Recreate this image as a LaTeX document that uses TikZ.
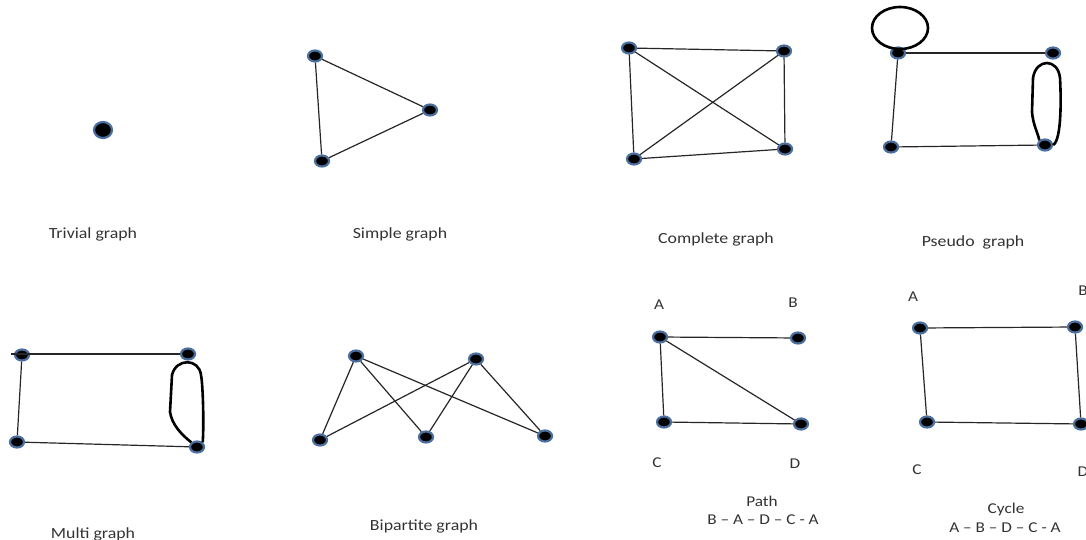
\documentclass[tikz,border=0pt]{standalone}
\usepackage{fontspec}
\setmainfont{Carlito}[FakeStretch=1.15]
\usetikzlibrary{shapes.geometric}
\definecolor{glow}{HTML}{4A6E9E}
\tikzset{
  vtx/.style={ellipse, fill=black, draw=glow, line width=2.2pt, minimum width=14pt, minimum height=11pt, inner sep=0pt},
  bigvtx/.style={vtx, minimum width=18pt, minimum height=16pt},
  edge/.style={draw=black!85, line width=1.2pt},
  loopline/.style={draw=black, line width=2.6pt},
  lbl/.style={font=\fontsize{15.5}{18}\selectfont, text=black!80, inner sep=0pt},
  small/.style={font=\fontsize{15}{17}\selectfont, text=black!80, inner sep=0pt}
}
\begin{document}
\begin{tikzpicture}[x=1pt,y=-1pt]
\useasboundingbox (0,0) rectangle (1086,540);
% Trivial graph
\node[bigvtx] (t1) at (103,130) {};
\node[lbl] (tl) at (93,234) {Trivial graph};
% Simple graph
\node[vtx] (s1) at (315,56) {};
\node[vtx] (s2) at (430,110) {};
\node[vtx] (s3) at (322,161) {};
\draw[edge] (s1) -- (s2) -- (s3) -- (s1);
\node[lbl] (sl) at (400,234) {Simple graph};
% Complete graph
\node[vtx] (c1) at (629,48) {};
\node[vtx] (c2) at (784,51) {};
\node[vtx] (c3) at (634,159) {};
\node[vtx] (c4) at (785,149) {};
\draw[edge] (c1) -- (c2) -- (c4) -- (c3) -- (c1);
\draw[edge] (c1) -- (c4);
\draw[edge] (c2) -- (c3);
\node[lbl] (cl) at (716,239) {Complete graph};
% Pseudo graph
\node[vtx] (p1) at (898,53) {};
\node[vtx] (p2) at (1053,53) {};
\node[vtx] (p3) at (891,147) {};
\node[vtx] (p4) at (1045,145) {};
\draw[edge] (p1) -- (p2);
\draw[edge] (p1) -- (p3);
\draw[edge] (p3) -- (p4);
\draw[loopline] (900,28) ellipse [x radius=28, y radius=21];
\draw[loopline] (p4.east) .. controls (1062,140) and (1061,95) .. (1060,78) .. controls (1058,58) and (1036,58) .. (1033,78) -- (1032,112) .. controls (1033,125) and (1038,133) .. (p4.north west);
\node[lbl] (pl) at (973,242) {Pseudo\ \ graph};
% Multi graph
\node[vtx] (m1) at (22,355) {};
\node[vtx] (m2) at (188,354) {};
\node[vtx] (m3) at (17,442) {};
\node[vtx] (m4) at (197,447) {};
\coordinate (m0) at (11,354);
\draw[edge] (m0) -- (m2);
\draw[edge] (m1) -- (m3);
\draw[edge] (m3) -- (m4);
\draw[loopline] (m4.north east) .. controls (204,425) and (203,385) .. (201,375) .. controls (199,358) and (176,358) .. (172,375) -- (170,412) .. controls (172,425) and (182,435) .. (m4.north west);
\node[lbl] (ml) at (93,534) {Multi graph};
% Bipartite graph
\node[vtx] (b1) at (356,356) {};
\node[vtx] (b2) at (476,359) {};
\node[vtx] (b3) at (320,440) {};
\node[vtx] (b4) at (426,437) {};
\node[vtx] (b5) at (545,436) {};
\foreach \u in {b1,b2}{\foreach \v in {b3,b4,b5}{\draw[edge] (\u) -- (\v);}}
\node[lbl] (bl) at (424,526) {Bipartite graph};
% Path
\node[vtx] (pa) at (660,337) {};
\node[vtx] (pb) at (798,338) {};
\node[vtx] (pc) at (664,422) {};
\node[vtx] (pd) at (801,424) {};
\draw[edge] (pa) -- (pb);
\draw[edge] (pa) -- (pc);
\draw[edge] (pa) -- (pd);
\draw[edge] (pc) -- (pd);
\node[small] (pla) at (659,305) {A};
\node[small] (plb) at (793,303) {B};
\node[small] (plc) at (657,463) {C};
\node[small] (pld) at (795,464) {D};
\node[small] (plt) at (762,501) {Path};
\node[small] (plp) at (763,520) {B -- A -- D -- C - A};
% Cycle
\node[vtx] (ya) at (920,328) {};
\node[vtx] (yb) at (1075,327) {};
\node[vtx] (yc) at (927,422) {};
\node[vtx] (yd) at (1081,424) {};
\draw[edge] (ya) -- (yb);
\draw[edge] (ya) -- (yc);
\draw[edge] (yc) -- (yd);
\draw[edge] (yb) -- (yd);
\node[small] (yla) at (913,297) {A};
\node[small] (ylb) at (1083,291) {B};
\node[small] (ylc) at (917,470) {C};
\node[small] (yld) at (1083,472) {D};
\node[small] (ylt) at (1006,509) {Cycle};
\node[small] (ylp) at (1005,528) {A -- B -- D -- C - A};
\end{tikzpicture}
\end{document}
